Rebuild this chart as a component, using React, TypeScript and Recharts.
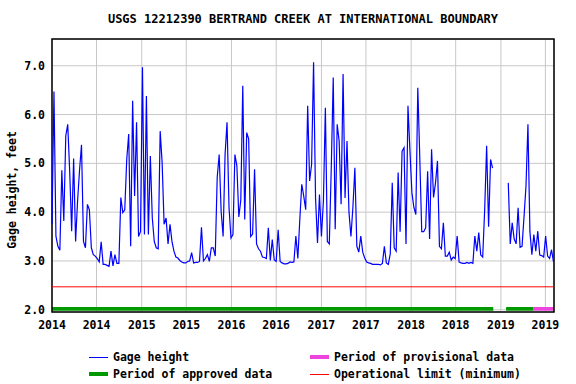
import { LineChart, Line, XAxis, YAxis, CartesianGrid, ReferenceLine, ReferenceArea } from "recharts";

const startDate = "2014-01-01";
const endDate = "2019-08-05";
const stepDays = 8;
const stageFeet: (number | null)[] = [
  3.75, 6.47, 3.51, 3.3, 3.22, 4.86, 3.82, 5.56, 5.8, 4.84,
  3.61, 5.1, 3.4, 4.23, 4.86, 5.38, 3.4, 3.27, 4.16, 4.05,
  3.27, 3.13, 3.1, 3.05, 2.98, 3.39, 2.93, 2.93, 2.91, 2.89,
  3.2, 2.9, 3.13, 2.95, 2.95, 4.3, 3.99, 4.05, 5.08, 5.6,
  3.3, 6.28, 4.33, 5.84, 3.5, 3.6, 6.97, 3.54, 6.38, 3.54,
  5.15, 3.88, 3.4, 3.27, 3.25, 5.66, 5.01, 3.75, 3.88, 3.35,
  3.75, 3.4, 3.2, 3.08, 3.06, 3.01, 2.98, 2.96, 2.96, 2.99,
  3.0, 3.17, 2.96, 2.97, 2.97, 2.99, 3.69, 3.0, 3.05, 3.13,
  2.99, 3.27, 3.27, 3.1, 4.71, 5.18, 4.02, 3.5, 5.18, 5.84,
  4.1, 3.47, 3.54, 5.18, 4.95, 3.9, 4.25, 6.59, 3.85, 5.63,
  5.5, 3.5, 3.55, 4.88, 3.35, 3.25, 3.2, 3.08, 3.07, 3.05,
  3.68, 3.01, 3.44, 3.02, 2.99, 3.64, 2.99, 2.96, 2.94, 2.94,
  2.95, 2.98, 2.97, 2.98, 3.51, 3.05, 3.85, 4.57, 4.33, 4.05,
  6.18, 4.64, 4.98, 7.07, 4.29, 3.37, 4.36, 3.5, 4.23, 6.14,
  3.4, 3.35, 4.91, 6.76, 3.65, 5.8, 5.46, 4.16, 6.83, 4.29,
  5.46, 4.0, 3.5, 4.1, 4.91, 3.3, 3.18, 3.51, 3.18, 3.06,
  2.98, 2.96, 2.95, 2.93, 2.93, 2.93, 2.93, 2.92, 2.95, 3.3,
  2.96, 2.93, 3.15, 4.6, 3.27, 3.2, 4.81, 3.6, 5.25, 5.32,
  3.35, 6.18, 5.25, 4.4, 4.1, 3.95, 6.55, 5.12, 3.6, 3.6,
  3.68, 4.84, 3.45, 5.29, 4.3, 4.6, 5.05, 3.3, 3.25, 3.78,
  3.1, 3.1, 3.18, 3.02, 3.08, 3.05, 3.51, 2.98, 2.96, 2.95,
  2.95, 2.97, 2.95, 2.97, 2.95, 3.51, 3.2, 3.58, 3.12, 3.08,
  4.05, 5.36, 3.7, 5.08, 4.9, null, null, null, null, null,
  null, null, 4.6, 3.35, 3.78, 3.45, 3.35, 4.09, 3.28, 3.3,
  3.9, 4.53, 5.8, 3.6, 3.13, 3.54, 3.2, 3.61, 3.12, 3.11,
  3.08, 3.51, 3.1, 3.05, 3.23, 2.98,
];

const tickDates = [
  "2014-01-01", "2014-07-01", "2015-01-01", "2015-07-01", "2016-01-01", "2016-07-01",
  "2017-01-01", "2017-07-01", "2018-01-01", "2018-07-01", "2019-01-01", "2019-07-01",
];
const tickLabels = ["2014", "2014", "2015", "2015", "2016", "2016", "2017", "2017", "2018", "2018", "2019", "2019"];
const yTicks = [2, 3, 4, 5, 6, 7];
const approvedPeriods = [
  ["2014-01-01", "2018-12-01"],
  ["2019-01-22", "2019-05-12"],
];
const provisionalPeriods = [["2019-05-12", "2019-08-05"]];
const operationalLimit = 2.47;

const dayOf = (d: string) => Math.round((Date.parse(d) - Date.parse(startDate)) / 86400000);

const data = stageFeet.map((v, i) => ({ day: i * stepDays, stage: v }));
const xTicks = tickDates.map(dayOf);
const yMin = 1.954;
const yMax = 7.548;

const FONT = "'DejaVu Sans Mono', monospace";
const tickStyle = { fontFamily: FONT, fontSize: 11.5, fontWeight: "bold", fill: "#000" };

const LegendItem = ({ x, y, color, thick, text }: { x: number; y: number; color: string; thick: boolean; text: string }) => (
  <div style={{ position: "absolute", left: x, top: y - 7, height: 16, display: "flex", alignItems: "center" }}>
    <div style={{ width: 19, height: thick ? 4 : 1, background: color, marginRight: 5 }} />
    <span style={{ fontFamily: FONT, fontSize: 11.5, fontWeight: "bold", color: "#000", whiteSpace: "pre" }}>{text}</span>
  </div>
);

const App = () => {
  return (
    <div style={{ position: "absolute", left: 0, top: 0, width: 576, height: 384, background: "#fff" }}>
      <div
        style={{
          position: "absolute", left: 52, top: 12, width: 502, textAlign: "center",
          fontFamily: FONT, fontSize: 12, fontWeight: "bold", color: "#000", whiteSpace: "pre",
        }}
      >
        USGS 12212390 BERTRAND CREEK AT INTERNATIONAL BOUNDARY
      </div>
      <div
        style={{
          position: "absolute", left: 12, top: 190, transform: "translate(-50%, -50%) rotate(-90deg)",
          fontFamily: FONT, fontSize: 11.5, fontWeight: "bold", color: "#000", whiteSpace: "pre",
        }}
      >
        Gage height, feet
      </div>
      <LineChart width={576} height={384} data={data} margin={{ top: 39, right: 22, left: 0, bottom: 0 }}>
        <CartesianGrid stroke="#c8c8c8" strokeWidth={1} />
        <XAxis
          dataKey="day"
          type="number"
          domain={[0, dayOf(endDate)]}
          ticks={xTicks}
          tickFormatter={(d: number) => tickLabels[xTicks.indexOf(d)]}
          height={72}
          tickLine={false}
          tickSize={0}
          tickMargin={9}
          axisLine={false}
          tick={tickStyle}
          interval={0}
        />
        <YAxis
          type="number"
          domain={[yMin, yMax]}
          ticks={yTicks}
          allowDataOverflow
          tickFormatter={(v: number) => v.toFixed(1)}
          width={52}
          tickLine={false}
          tickSize={0}
          tickMargin={7}
          axisLine={false}
          tick={tickStyle}
          interval={0}
        />
        <ReferenceLine y={operationalLimit} stroke="#ff0000" strokeWidth={1} />
        {approvedPeriods.map(([a, b]) => (
          <ReferenceArea key={a} x1={dayOf(a)} x2={dayOf(b)} y1={1.98} y2={2.056} fill="#009900" fillOpacity={1} stroke="none" />
        ))}
        {provisionalPeriods.map(([a, b]) => (
          <ReferenceArea key={a} x1={dayOf(a)} x2={dayOf(b)} y1={1.98} y2={2.056} fill="#ee44dd" fillOpacity={1} stroke="none" />
        ))}
        <Line
          type="linear"
          dataKey="stage"
          stroke="#0000ff"
          strokeWidth={1.2}
          dot={false}
          connectNulls={false}
          isAnimationActive={false}
        />
        <ReferenceArea x1={0} x2={dayOf(endDate)} y1={yMin} y2={yMax} fill="none" stroke="#000" strokeWidth={1.5} />
      </LineChart>
      <LegendItem x={89} y={356} color="#0000ff" thick={false} text="Gage height" />
      <LegendItem x={89} y={373} color="#009900" thick={true} text="Period of approved data" />
      <LegendItem x={310} y={356} color="#ee44dd" thick={true} text="Period of provisional data" />
      <LegendItem x={310} y={373} color="#ff0000" thick={false} text="Operational limit (minimum)" />
    </div>
  );
};

export default App;
